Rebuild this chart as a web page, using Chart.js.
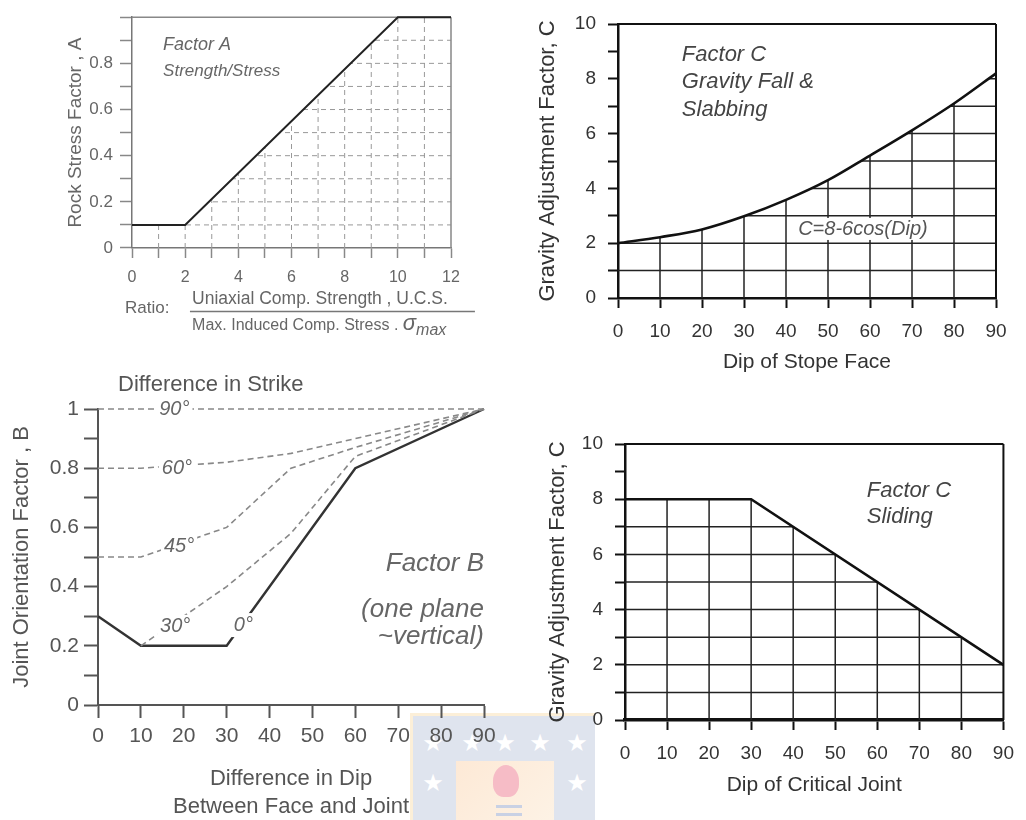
<!DOCTYPE html>
<html>
<head>
<meta charset="utf-8">
<script src="https://cdn.jsdelivr.net/npm/chart.js@4.4.0/dist/chart.umd.min.js"></script>
<style>
  body { margin: 0; background: #fff; }
  #wrap { position: relative; width: 1026px; height: 820px; overflow: hidden; }
  canvas { position: absolute; left: 0; top: 0; }
  #seal { position: absolute; left: 410px; top: 713px; width: 182px; height: 110px;
          background: #dfe4ee; border-top: 3px solid #fcefd8; border-left: 3px solid #fcefd8; }
  #seal .star { position: absolute; color: #fff; font: 24px "DejaVu Sans", sans-serif;
                transform: translate(-50%, -50%); }
  #seal-inner { position: absolute; left: 43px; top: 45px; width: 98px; height: 70px;
                background: linear-gradient(135deg, #fde9d6, #fdf3e6); }
  #flame { position: absolute; left: 37px; top: 4px; width: 26px; height: 32px;
           background: #f6bcc6; border-radius: 50% 50% 40% 40%; }
  .bar { position: absolute; left: 40px; width: 26px; height: 3px; background: #c9d1e4; }
</style>
</head>
<body>
<div id="wrap">
  <div id="seal">
    <span class="star" style="left:20px;top:27px">★</span>
    <span class="star" style="left:59px;top:27px">★</span>
    <span class="star" style="left:92px;top:27px">★</span>
    <span class="star" style="left:127px;top:27px">★</span>
    <span class="star" style="left:164px;top:27px">★</span>
    <span class="star" style="left:20px;top:67px">★</span>
    <span class="star" style="left:164px;top:67px">★</span>
    <div id="seal-inner">
      <div id="flame"></div>
      <div class="bar" style="top:44px"></div>
      <div class="bar" style="top:52px"></div>
    </div>
  </div>
  <canvas id="chartA" width="1026" height="820"></canvas>
  <canvas id="chartB" width="1026" height="820"></canvas>
  <canvas id="chartC" width="1026" height="820"></canvas>
  <canvas id="chartS" width="1026" height="820"></canvas>
</div>
<script>
var FONT = '"Liberation Sans", Arial, sans-serif';

// Factor A - rock stress factor vs strength/stress ratio
var ratioX = [0, 2, 10, 12];
var factorA = [0.1, 0.1, 1.0, 1.0];
var factorAXLabels = ['0', '2', '4', '6', '8', '10', '12'];
var factorAYLabels = ['0', '0.2', '0.4', '0.6', '0.8'];

// Factor B - joint orientation factor, one line per strike difference
var dipDiffX = [0, 10, 30, 45, 60, 90];
var strike90 = [1, 1, 1, 1, 1, 1];
var strike60 = [0.8, 0.8, 0.82, 0.85, 0.9, 1];
var strike45 = [0.5, 0.5, 0.6, 0.8, 0.87, 1];
var strike30 = [null, 0.2, 0.4, 0.58, 0.84, 1];
var strike0 = [0.3, 0.2, 0.2, 0.5, 0.8, 1];
var factorBXLabels = ['0', '10', '20', '30', '40', '50', '60', '70', '80', '90'];
var factorBYLabels = ['0', '0.2', '0.4', '0.6', '0.8', '1'];

// Factor C - gravity fall & slabbing
var stopeDipX = [0, 10, 20, 30, 40, 50, 60, 70, 80, 90];
var gravityC = [2, 2.22, 2.5, 2.98, 3.58, 4.3, 5.2, 6.12, 7.1, 8.2];

// Factor C - sliding
var jointDipX = [0, 30, 90];
var slidingC = [8, 8, 2];

var dipLabels = ['0', '10', '20', '30', '40', '50', '60', '70', '80', '90'];
var gravityYLabels = ['0', '2', '4', '6', '8', '10'];

function pairs(xs, ys) {
  return xs.map(function (x, i) { return { x: x, y: ys[i] }; });
}

function showIn(list) {
  return function (value) {
    var s = String(Math.round(value * 10) / 10);
    return list.indexOf(s) >= 0 ? s : '';
  };
}

function fixedWidth(w) { return function (scale) { scale.width = w; }; }
function fixedHeight(h) { return function (scale) { scale.height = h; }; }

// grid lines only in the region under the first dataset's curve
function gridPlugin(style) {
  return {
    id: 'underCurveGrid',
    beforeDatasetsDraw: function (chart) {
      var ctx = chart.ctx, xs = chart.scales.x, ys = chart.scales.y;
      var area = chart.chartArea;
      var meta = chart.getDatasetMeta(0);
      if (meta.dataset && meta.dataset.updateControlPoints) meta.dataset.updateControlPoints(area, 'x');
      var pts = meta.data;
      ctx.save();
      ctx.beginPath();
      ctx.moveTo(pts[0].x, pts[0].y);
      for (var i = 1; i < pts.length; i++) {
        var p = pts[i - 1], q = pts[i];
        if (style.smooth) ctx.bezierCurveTo(p.cp2x, p.cp2y, q.cp1x, q.cp1y, q.x, q.y);
        else ctx.lineTo(q.x, q.y);
      }
      ctx.lineTo(area.right, area.bottom);
      ctx.lineTo(area.left, area.bottom);
      ctx.closePath();
      ctx.clip();
      ctx.strokeStyle = style.color;
      ctx.lineWidth = style.width;
      ctx.setLineDash(style.dash || []);
      xs.ticks.forEach(function (t) {
        if (t.value <= xs.min || t.value >= xs.max) return;
        var x = xs.getPixelForValue(t.value);
        ctx.beginPath(); ctx.moveTo(x, area.bottom); ctx.lineTo(x, area.top); ctx.stroke();
      });
      ys.ticks.forEach(function (t) {
        if (t.value <= ys.min || t.value >= ys.max) return;
        var y = ys.getPixelForValue(t.value);
        ctx.beginPath(); ctx.moveTo(area.left, y); ctx.lineTo(area.right, y); ctx.stroke();
      });
      ctx.restore();
    }
  };
}

// top and right border of the plot box
function framePlugin(style) {
  return {
    id: 'frameBox',
    beforeDatasetsDraw: function (chart) {
      var ctx = chart.ctx, a = chart.chartArea;
      ctx.save();
      ctx.strokeStyle = style.color;
      ctx.lineWidth = style.width;
      ctx.beginPath();
      ctx.moveTo(a.left, a.top); ctx.lineTo(a.right, a.top);
      ctx.moveTo(a.right, a.top); ctx.lineTo(a.right, a.bottom);
      ctx.stroke();
      ctx.restore();
    }
  };
}

// text notes placed in data coordinates
function notesPlugin(list) {
  return {
    id: 'notes',
    afterDatasetsDraw: function (chart) {
      var ctx = chart.ctx, xs = chart.scales.x, ys = chart.scales.y;
      list.forEach(function (n) {
        var px = xs.getPixelForValue(n.x), py = ys.getPixelForValue(n.y);
        ctx.save();
        if (n.rule) {
          ctx.strokeStyle = n.color;
          ctx.lineWidth = 1.5;
          ctx.beginPath(); ctx.moveTo(px, py); ctx.lineTo(xs.getPixelForValue(n.x2), py); ctx.stroke();
          ctx.restore();
          return;
        }
        ctx.textBaseline = 'middle';
        ctx.fillStyle = n.color;
        if (n.parts) {
          var cx = px;
          n.parts.forEach(function (part) {
            ctx.font = part.font;
            ctx.textAlign = 'left';
            ctx.fillText(part.text, cx, py + (part.dy || 0));
            cx += ctx.measureText(part.text).width;
          });
          ctx.restore();
          return;
        }
        ctx.font = n.font;
        ctx.textAlign = n.align || 'left';
        if (n.bg) {
          var w = ctx.measureText(n.text).width;
          var left = n.align === 'center' ? px - w / 2 : (n.align === 'right' ? px - w : px);
          ctx.fillStyle = n.bg;
          ctx.fillRect(left - 3, py - n.bgH / 2, w + 6, n.bgH);
          ctx.fillStyle = n.color;
        }
        ctx.fillText(n.text, px, py);
        ctx.restore();
      });
    }
  };
}

var factorANotes = [
  { text: 'Factor A', x: 1.17, y: 0.88, font: 'italic 18px ' + FONT, color: '#666' },
  { text: 'Strength/Stress', x: 1.17, y: 0.765, font: 'italic 17px ' + FONT, color: '#666' },
  { text: 'Ratio:', x: -0.26, y: -0.263, font: '17px ' + FONT, color: '#666' },
  { text: 'Uniaxial Comp. Strength , U.C.S.', x: 2.26, y: -0.22, font: '17.5px ' + FONT, color: '#666' },
  { rule: true, x: 2.18, x2: 12.9, y: -0.275, color: '#777' },
  { x: 2.26, y: -0.335, color: '#666', parts: [
    { text: 'Max. Induced Comp. Stress . ', font: '16px ' + FONT },
    { text: 'σ', font: 'italic 22px ' + FONT, dy: -1 },
    { text: 'max', font: 'italic 16px ' + FONT, dy: 5 }
  ] }
];

var factorBNotes = [
  { text: 'Difference in Strike', x: 26.3, y: 1.081, font: '22px ' + FONT, color: '#555', align: 'center' },
  { text: '90°', x: 17.8, y: 1.0, font: 'italic 20px ' + FONT, color: '#666', align: 'center', bg: '#fff', bgH: 22 },
  { text: '60°', x: 18.4, y: 0.8, font: 'italic 20px ' + FONT, color: '#666', align: 'center', bg: '#fff', bgH: 22 },
  { text: '45°', x: 18.9, y: 0.534, font: 'italic 20px ' + FONT, color: '#666', align: 'center', bg: '#fff', bgH: 22 },
  { text: '30°', x: 18, y: 0.264, font: 'italic 20px ' + FONT, color: '#666', align: 'center', bg: '#fff', bgH: 24 },
  { text: '0°', x: 33.9, y: 0.27, font: 'italic 20px ' + FONT, color: '#666', align: 'center', bg: '#fff', bgH: 24 },
  { text: 'Factor B', x: 90, y: 0.476, font: 'italic 26px ' + FONT, color: '#666', align: 'right' },
  { text: '(one plane', x: 90, y: 0.321, font: 'italic 26px ' + FONT, color: '#666', align: 'right' },
  { text: '~vertical)', x: 90, y: 0.23, font: 'italic 26px ' + FONT, color: '#666', align: 'right' }
];

var gravityNotes = [
  { text: 'Factor C', x: 15.2, y: 8.87, font: 'italic 22px ' + FONT, color: '#444' },
  { text: 'Gravity Fall &', x: 15.2, y: 7.88, font: 'italic 22px ' + FONT, color: '#444' },
  { text: 'Slabbing', x: 15.2, y: 6.86, font: 'italic 22px ' + FONT, color: '#444' },
  { text: 'C=8-6cos(Dip)', x: 42.9, y: 2.52, font: 'italic 20px ' + FONT, color: '#555', bg: '#fff', bgH: 22 }
];

var slidingNotes = [
  { text: 'Factor C', x: 57.5, y: 8.3, font: 'italic 22px ' + FONT, color: '#444' },
  { text: 'Sliding', x: 57.5, y: 7.36, font: 'italic 22px ' + FONT, color: '#444' }
];

function tickFont(size) { return { family: FONT, size: size }; }

function baseOptions(padding) {
  return {
    responsive: false,
    animation: false,
    events: [],
    layout: { padding: padding },
    plugins: { legend: { display: false }, tooltip: { enabled: false } }
  };
}

// ---------- Factor A ----------
var optA = baseOptions({ left: 64, right: 575, top: 12, bottom: 532 });
optA.scales = {
  x: {
    type: 'linear', min: 0, max: 12,
    ticks: { stepSize: 1, autoSkip: false, maxRotation: 0, padding: 10, color: '#666',
             font: tickFont(16), callback: showIn(factorAXLabels) },
    grid: { drawOnChartArea: false, tickLength: 10, tickColor: '#888', tickWidth: 1.5 },
    border: { color: '#777', width: 1.5 },
    afterFit: fixedHeight(40)
  },
  y: {
    min: 0, max: 1,
    ticks: { stepSize: 0.1, autoSkip: false, padding: 7, color: '#666',
             font: tickFont(17), callback: showIn(factorAYLabels) },
    grid: { drawOnChartArea: false, tickLength: 12, tickColor: '#888', tickWidth: 1.5 },
    border: { color: '#777', width: 1.5 },
    title: { display: true, text: 'Rock Stress Factor , A', color: '#666', font: tickFont(19), padding: 0 },
    afterFit: fixedWidth(68)
  }
};
new Chart(document.getElementById('chartA'), {
  type: 'line',
  data: { datasets: [{ data: pairs(ratioX, factorA), borderColor: '#222', borderWidth: 2,
                       pointRadius: 0, tension: 0, clip: false }] },
  options: optA,
  plugins: [gridPlugin({ color: '#999', width: 1, dash: [5, 4] }),
            framePlugin({ color: '#888', width: 1.5 }), notesPlugin(factorANotes)]
});

// ---------- Factor B ----------
var optB = baseOptions({ left: 9, right: 542, top: 409, bottom: 0 });
optB.scales = {
  x: {
    type: 'linear', min: 0, max: 90,
    ticks: { stepSize: 10, autoSkip: false, maxRotation: 0, padding: 6, color: '#555',
             font: tickFont(21), callback: showIn(factorBXLabels) },
    grid: { drawOnChartArea: false, tickLength: 13, tickColor: '#555', tickWidth: 2 },
    border: { color: '#555', width: 2 },
    title: { display: true, text: ['Difference in Dip', 'Between Face and Joint'], color: '#555',
             font: { family: FONT, size: 22, lineHeight: 1.23 }, padding: 0 },
    afterFit: fixedHeight(115)
  },
  y: {
    min: 0, max: 1,
    ticks: { stepSize: 0.1, autoSkip: false, padding: 5, color: '#555',
             font: tickFont(21), callback: showIn(factorBYLabels) },
    grid: { drawOnChartArea: false, tickLength: 14, tickColor: '#555', tickWidth: 2 },
    border: { color: '#555', width: 2 },
    title: { display: true, text: 'Joint Orientation Factor , B', color: '#555', font: tickFont(22), padding: 0 },
    afterFit: fixedWidth(89)
  }
};
function dashed(ys) {
  return { data: pairs(dipDiffX, ys), borderColor: '#888', borderWidth: 1.6, borderDash: [6, 4],
           pointRadius: 0, tension: 0, clip: false, spanGaps: false };
}
var solid0 = { data: pairs(dipDiffX, strike0), borderColor: '#333', borderWidth: 2.4,
               pointRadius: 0, tension: 0, clip: false };
new Chart(document.getElementById('chartB'), {
  type: 'line',
  data: { datasets: [dashed(strike90), dashed(strike60), dashed(strike45), dashed(strike30), solid0] },
  options: optB,
  plugins: [notesPlugin(factorBNotes)]
});

// ---------- Factor C, gravity ----------
function gravityScales(xTitle, yWidth, xHeight, xBorder) {
  return {
    x: {
      type: 'linear', min: 0, max: 90,
      ticks: { stepSize: 10, autoSkip: false, maxRotation: 0, padding: 12, color: '#333',
               font: tickFont(19), callback: showIn(dipLabels) },
      grid: { drawOnChartArea: false, tickLength: 10, tickColor: '#111', tickWidth: 2 },
      border: { color: '#111', width: xBorder },
      title: { display: true, text: xTitle, color: '#333', font: tickFont(21), padding: 0 },
      afterFit: fixedHeight(xHeight)
    },
    y: {
      min: 0, max: 10,
      ticks: { stepSize: 1, autoSkip: false, padding: 12, color: '#333',
               font: tickFont(19), callback: showIn(gravityYLabels) },
      grid: { drawOnChartArea: false, tickLength: 10, tickColor: '#111', tickWidth: 2 },
      border: { color: '#111', width: 2.5 },
      title: { display: true, text: 'Gravity Adjustment Factor, C', color: '#333', font: tickFont(22), padding: 0 },
      afterFit: fixedWidth(yWidth)
    }
  };
}

var optC = baseOptions({ left: 535, right: 30, top: 24, bottom: 445 });
optC.scales = gravityScales('Dip of Stope Face', 83, 77, 2.5);
new Chart(document.getElementById('chartC'), {
  type: 'line',
  data: { datasets: [{ data: pairs(stopeDipX, gravityC), borderColor: '#111', borderWidth: 2.6,
                       pointRadius: 0, cubicInterpolationMode: 'monotone', clip: false }] },
  options: optC,
  plugins: [gridPlugin({ color: '#222', width: 1.5, smooth: true }),
            framePlugin({ color: '#111', width: 2 }), notesPlugin(gravityNotes)]
});

// ---------- Factor C, sliding ----------
var optS = baseOptions({ left: 545, right: 22, top: 444, bottom: 22 });
optS.scales = gravityScales('Dip of Critical Joint', 80, 78, 3.5);
new Chart(document.getElementById('chartS'), {
  type: 'line',
  data: { datasets: [{ data: pairs(jointDipX, slidingC), borderColor: '#111', borderWidth: 2.6,
                       pointRadius: 0, tension: 0, clip: false }] },
  options: optS,
  plugins: [gridPlugin({ color: '#222', width: 1.5 }),
            framePlugin({ color: '#111', width: 2 }), notesPlugin(slidingNotes)]
});
</script>
</body>
</html>
